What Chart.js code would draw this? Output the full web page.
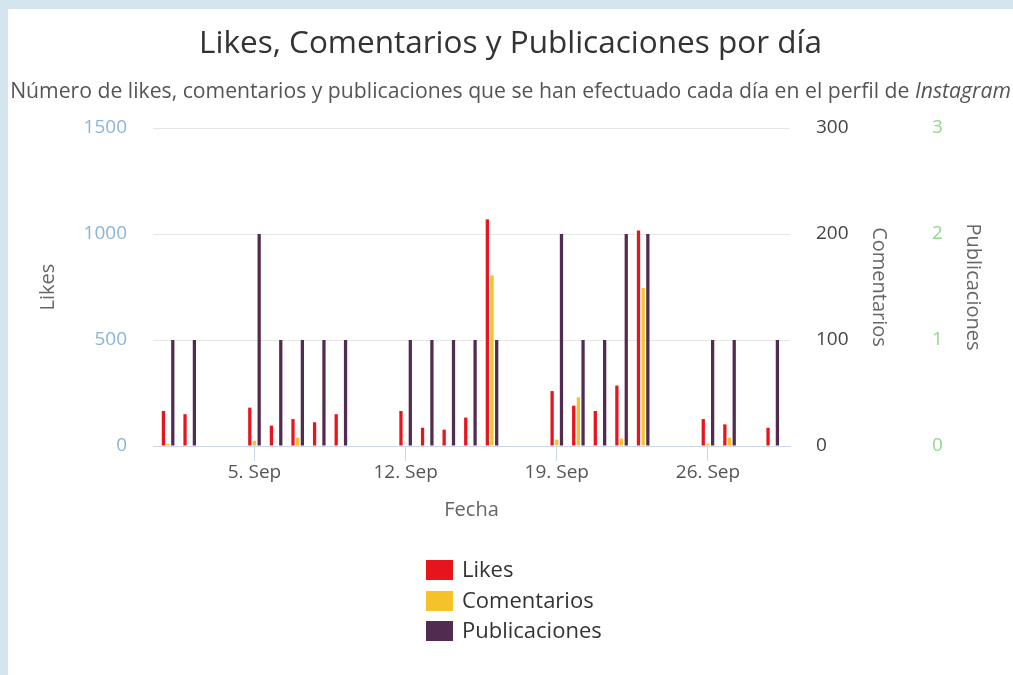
<!DOCTYPE html>
<html>
<head>
<meta charset="utf-8">
<script src="https://cdn.jsdelivr.net/npm/chart.js@4.4.1/dist/chart.umd.min.js"></script>
<style>
  body { margin: 0; background: #d4e5f0; font-family: "Open Sans", sans-serif; overflow: hidden; }
  #box { position: absolute; left: 8px; top: 9px; width: 1005px; height: 666px; background: #fff; }
  #wrap { position: absolute; left: 0; top: 0; width: 1013px; height: 675px; }
  .titulo { position: absolute; left: 8px; width: 1005px; text-align: center; white-space: nowrap; }
  #titulo { top: 22px; font-size: 31.5px; line-height: 38px; color: #333; }
  #subtitulo { top: 76px; font-size: 21.2px; line-height: 27px; color: #555; }
  #leyenda { position: absolute; left: 426px; top: 553px; }
  #leyenda div { height: 30.5px; line-height: 30.5px; font-size: 22px; color: #333; white-space: nowrap; }
  #leyenda span.caja { display: inline-block; width: 27px; height: 20px; margin-right: 9px; vertical-align: -3px; }
</style>
</head>
<body>
<div id="box"></div>
<div id="wrap"><canvas id="grafico"></canvas></div>
<div class="titulo" id="titulo">Likes, Comentarios y Publicaciones por día</div>
<div class="titulo" id="subtitulo">Número de likes, comentarios y publicaciones que se han efectuado cada día en el perfil de <i>Instagram</i></div>
<div id="leyenda"></div>
<script>
// dias de septiembre con datos
var dias = [1, 2, 5, 6, 7, 8, 9, 12, 13, 14, 15, 16, 19, 20, 21, 22, 23, 26, 27, 29];
var likes = [165, 150, 181, 96, 127, 112, 150, 165, 86, 77, 134, 1069, 259, 190, 165, 285, 1016, 127, 102, 86];
var comentarios = [2, 0, 5, 0, 8, 0, 0, 0, 0, 0, 0, 161, 6, 46, 0, 7, 149, 2, 8, 0];
var publicaciones = [1, 1, 2, 1, 1, 1, 1, 1, 1, 1, 1, 1, 2, 1, 1, 2, 2, 1, 1, 1];
var diasEtiqueta = [5, 12, 19, 26];
var mes = 'Sep';

function puntos(valores) {
    return dias.map(function (d, i) {
        return {x: d, y: valores[i]};
    });
}

var fuenteTicks = {family: 'Open Sans', size: 19};
var fuenteTitulo = {family: 'Open Sans', size: 20};

// sin separador de miles (1500, no 1,500)
function sinComa(v) {
    return String(v);
}

var ctx = document.getElementById('grafico');
var grafico = new Chart(ctx, {
    type: 'bar',
    data: {
        datasets: [{
            label: 'Likes',
            data: puntos(likes),
            backgroundColor: '#e8141c',
            yAxisID: 'y'
        }, {
            label: 'Comentarios',
            data: puntos(comentarios),
            backgroundColor: '#f6c22b',
            yAxisID: 'y1'
        }, {
            label: 'Publicaciones',
            data: puntos(publicaciones),
            backgroundColor: '#512c50',
            yAxisID: 'y2'
        }]
    },
    options: {
        responsive: true,
        maintainAspectRatio: false,
        animation: false,
        categoryPercentage: 0.65,
        barPercentage: 0.7,
        layout: {padding: {top: 128, bottom: 149, left: 0, right: 0}},
        plugins: {
            legend: {display: false},
            tooltip: {enabled: false}
        },
        scales: {
            x: {
                type: 'linear',
                min: 0.3,
                max: 29.8,
                offset: false,
                afterBuildTicks: function (s) {
                    s.ticks = diasEtiqueta.map(function (d) { return {value: d}; });
                },
                afterFit: function (s) { s.height = 80; },
                ticks: {
                    callback: function (v) { return v + '. ' + mes; },
                    color: '#555',
                    font: fuenteTicks,
                    padding: 0,
                    maxRotation: 0,
                    autoSkip: false
                },
                grid: {offset: false, drawOnChartArea: false, tickLength: 15, color: '#ccd6eb'},
                border: {color: '#ccd6eb'},
                title: {display: true, text: 'Fecha', color: '#666', font: fuenteTitulo, padding: {top: 0, bottom: 4}}
            },
            y: {
                position: 'left',
                min: 0,
                max: 1500,
                afterFit: function (s) { s.width = 153; },
                ticks: {stepSize: 500, color: '#8ab4dc', font: fuenteTicks, padding: 26, callback: sinComa},
                grid: {
                    drawTicks: false,
                    color: function (c) { return c.tick && c.tick.value === 0 ? 'rgba(0,0,0,0)' : '#e6e6e6'; }
                },
                border: {display: false},
                title: {display: true, text: 'Likes', color: '#666', font: fuenteTitulo, padding: {top: 36, bottom: 0}}
            },
            y1: {
                position: 'right',
                min: 0,
                max: 300,
                afterFit: function (s) { s.width = 105; },
                ticks: {stepSize: 100, color: '#444', font: fuenteTicks, padding: 26, callback: sinComa},
                grid: {drawOnChartArea: false, drawTicks: false},
                border: {display: false},
                title: {display: true, text: 'Comentarios', color: '#666', font: fuenteTitulo, padding: {top: 4, bottom: 0}}
            },
            y2: {
                position: 'right',
                min: 0,
                max: 3,
                afterFit: function (s) { s.width = 118; },
                ticks: {stepSize: 1, color: '#90d98a', font: fuenteTicks, padding: 37, callback: sinComa},
                grid: {drawOnChartArea: false, drawTicks: false},
                border: {display: false},
                title: {display: true, text: 'Publicaciones', color: '#666', font: fuenteTitulo, padding: {top: 28, bottom: 0}}
            }
        }
    }
});

// leyenda vertical como en el original
var leyenda = document.getElementById('leyenda');
grafico.data.datasets.forEach(function (ds) {
    var fila = document.createElement('div');
    var caja = document.createElement('span');
    caja.className = 'caja';
    caja.style.background = ds.backgroundColor;
    fila.appendChild(caja);
    fila.appendChild(document.createTextNode(ds.label));
    leyenda.appendChild(fila);
});
</script>
</body>
</html>
